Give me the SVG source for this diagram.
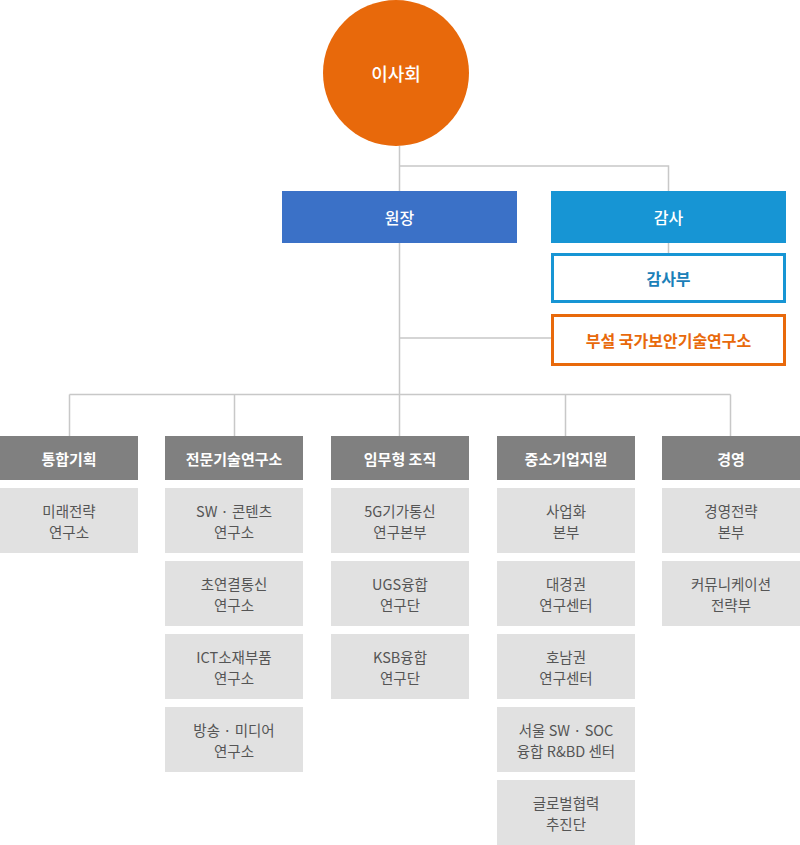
<svg xmlns="http://www.w3.org/2000/svg" width="800" height="845" viewBox="0 0 800 845">
<style>
text{font-family:"Noto Sans CJK KR","Noto Sans",sans-serif;text-anchor:middle;dominant-baseline:central}
.w{fill:#fff;font-weight:500}
.hd{fill:#808080}
.hdt{fill:#fff;font-size:15px;font-weight:bold}
.sb{fill:#e1e1e1}
.sbt{fill:#555;font-size:14.5px}
.ln{stroke:#c8c8c8;stroke-width:1.5;fill:none}
</style>
<rect width="800" height="845" fill="#fff"/>
<g id="connectors">
<path class="ln" d="M399.5 146V436M399.5 166H668.5V191M668.5 243V253M399.5 338H551M69.5 394.5H730.5M69.5 394.5V436M234.5 394.5V436M565.5 394.5V436M730.5 394.5V436"/>
</g>
<g id="board"><circle cx="396" cy="73" r="73" fill="#e8690b"/><text x="396" y="73" class="w" font-size="18">이사회</text></g>
<g id="president"><rect x="282" y="191" width="235" height="52" fill="#3b71c7"/><text x="399.5" y="217" class="w" font-size="16">원장</text></g>
<g id="auditor"><rect x="551" y="191" width="235" height="52" fill="#1795d4"/><text x="668.5" y="217" class="w" font-size="16">감사</text></g>
<g id="audit-dept"><rect x="552.5" y="254.5" width="232" height="47" fill="#fff" stroke="#1795d4" stroke-width="3"/><text x="668.5" y="278" fill="#1a80b8" font-size="16" font-weight="bold">감사부</text></g>
<g id="nsr"><rect x="552.5" y="315.5" width="232" height="49" fill="#fff" stroke="#e8690b" stroke-width="3"/><text x="668.5" y="340" fill="#e8690b" font-size="16" font-weight="bold">부설 국가보안기술연구소</text></g>

<g id="h1"><rect class="hd" x="0" y="436" width="138" height="44"/><text class="hdt" x="69" y="458">통합기획</text></g>
<g id="h2"><rect class="hd" x="165" y="436" width="138" height="44"/><text class="hdt" x="234" y="458">전문기술연구소</text></g>
<g id="h3"><rect class="hd" x="331" y="436" width="138" height="44"/><text class="hdt" x="400" y="458">임무형 조직</text></g>
<g id="h4"><rect class="hd" x="497" y="436" width="138" height="44"/><text class="hdt" x="566" y="458">중소기업지원</text></g>
<g id="h5"><rect class="hd" x="662" y="436" width="138" height="44"/><text class="hdt" x="731" y="458">경영</text></g>

<g id="s1-1"><rect class="sb" x="0" y="488" width="138" height="65"/><text class="sbt" x="69" y="510">미래전략</text><text class="sbt" x="69" y="531">연구소</text></g>

<g id="s2-1"><rect class="sb" x="165" y="488" width="138" height="65"/><text class="sbt" x="234" y="510">SW · 콘텐츠</text><text class="sbt" x="234" y="531">연구소</text></g>
<g id="s2-2"><rect class="sb" x="165" y="561" width="138" height="65"/><text class="sbt" x="234" y="583">초연결통신</text><text class="sbt" x="234" y="604">연구소</text></g>
<g id="s2-3"><rect class="sb" x="165" y="634" width="138" height="65"/><text class="sbt" x="234" y="656">ICT소재부품</text><text class="sbt" x="234" y="677">연구소</text></g>
<g id="s2-4"><rect class="sb" x="165" y="707" width="138" height="65"/><text class="sbt" x="234" y="729">방송 · 미디어</text><text class="sbt" x="234" y="750">연구소</text></g>

<g id="s3-1"><rect class="sb" x="331" y="488" width="138" height="65"/><text class="sbt" x="400" y="510">5G기가통신</text><text class="sbt" x="400" y="531">연구본부</text></g>
<g id="s3-2"><rect class="sb" x="331" y="561" width="138" height="65"/><text class="sbt" x="400" y="583">UGS융합</text><text class="sbt" x="400" y="604">연구단</text></g>
<g id="s3-3"><rect class="sb" x="331" y="634" width="138" height="65"/><text class="sbt" x="400" y="656">KSB융합</text><text class="sbt" x="400" y="677">연구단</text></g>

<g id="s4-1"><rect class="sb" x="497" y="488" width="138" height="65"/><text class="sbt" x="566" y="510">사업화</text><text class="sbt" x="566" y="531">본부</text></g>
<g id="s4-2"><rect class="sb" x="497" y="561" width="138" height="65"/><text class="sbt" x="566" y="583">대경권</text><text class="sbt" x="566" y="604">연구센터</text></g>
<g id="s4-3"><rect class="sb" x="497" y="634" width="138" height="65"/><text class="sbt" x="566" y="656">호남권</text><text class="sbt" x="566" y="677">연구센터</text></g>
<g id="s4-4"><rect class="sb" x="497" y="707" width="138" height="65"/><text class="sbt" x="566" y="729">서울 SW · SOC</text><text class="sbt" x="566" y="750">융합 R&amp;BD 센터</text></g>
<g id="s4-5"><rect class="sb" x="497" y="780" width="138" height="65"/><text class="sbt" x="566" y="802">글로벌협력</text><text class="sbt" x="566" y="823">추진단</text></g>

<g id="s5-1"><rect class="sb" x="662" y="488" width="138" height="65"/><text class="sbt" x="731" y="510">경영전략</text><text class="sbt" x="731" y="531">본부</text></g>
<g id="s5-2"><rect class="sb" x="662" y="561" width="138" height="65"/><text class="sbt" x="731" y="583">커뮤니케이션</text><text class="sbt" x="731" y="604">전략부</text></g>
</svg>
